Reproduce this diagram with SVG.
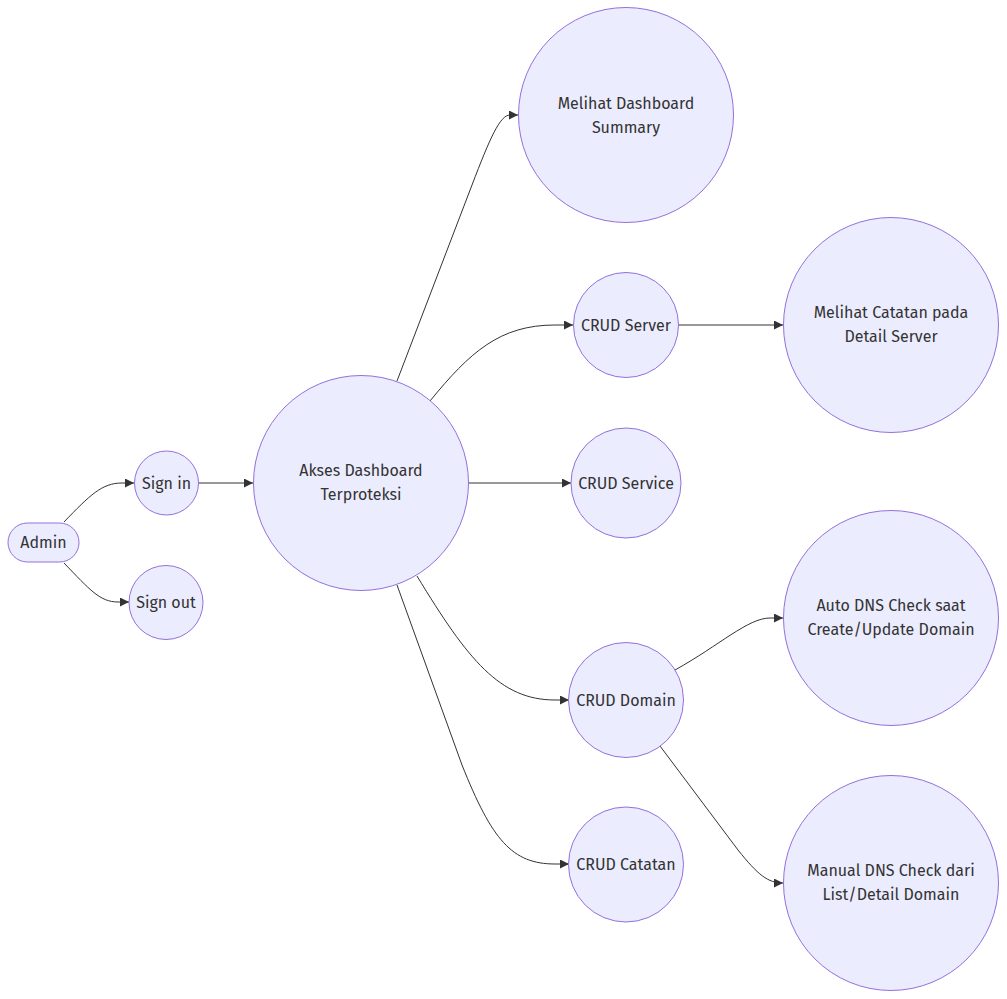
<svg xmlns="http://www.w3.org/2000/svg" width="1007" height="999" viewBox="0 0 1007 999">
<style>
.n{fill:#ECECFF;stroke:#9370DB;stroke-width:1}
.t{font-family:"Fira Sans","Open Sans","Noto Sans",sans-serif;font-size:16px;fill:#333;text-anchor:middle}
.e{fill:none;stroke:#333;stroke-width:1}
</style>
<defs>
<marker id="ah" viewBox="0 0 10 10" refX="10" refY="5" markerUnits="userSpaceOnUse" markerWidth="9" markerHeight="9" orient="auto">
<path d="M0,0 L10,5 L0,10 z" fill="#333"/>
</marker>
</defs>
<rect width="1007" height="999" fill="#fff"/>
<g id="edges">
<path class="e" marker-end="url(#ah)" d="M64,522 C90,495 102,483 122,483 L134,483"/>
<path class="e" marker-end="url(#ah)" d="M64,563 C90,590 100,602 118,602 L129,602"/>
<path class="e" marker-end="url(#ah)" d="M199,483 L253,483"/>
<path class="e" marker-end="url(#ah)" d="M397,381 L472,185 C490,138 500,115 510,115 L518,115"/>
<path class="e" marker-end="url(#ah)" d="M430,401 C470,352 500,325 555,325 L573,325"/>
<path class="e" marker-end="url(#ah)" d="M469,483 L571,483"/>
<path class="e" marker-end="url(#ah)" d="M417,576 C468,660 500,700 555,700 L569,700"/>
<path class="e" marker-end="url(#ah)" d="M397,585 L462,765 C492,840 512,864 555,864 L569,864"/>
<path class="e" marker-end="url(#ah)" d="M678,325 L783,325"/>
<path class="e" marker-end="url(#ah)" d="M675,670 C720,645 748,618 770,618 L783,618"/>
<path class="e" marker-end="url(#ah)" d="M660,746 L738,850 C758,875 768,883 783,883"/>
</g>
<g id="admin"><rect class="n" x="8" y="523" width="71" height="39" rx="19.5"/><text class="t" x="43.5" y="548">Admin</text></g>
<g id="signin"><circle class="n" cx="166.5" cy="483" r="32"/><text class="t" x="166.5" y="488.5">Sign in</text></g>
<g id="signout"><circle class="n" cx="166" cy="602.5" r="37"/><text class="t" x="166" y="608">Sign out</text></g>
<g id="akses"><circle class="n" cx="361" cy="483" r="107.5"/><text class="t" x="361" y="476">Akses Dashboard</text><text class="t" x="361" y="500">Terproteksi</text></g>
<g id="summary"><circle class="n" cx="626" cy="115" r="107.5"/><text class="t" x="626" y="108.5">Melihat Dashboard</text><text class="t" x="626" y="132.5">Summary</text></g>
<g id="crudserver"><circle class="n" cx="626" cy="325" r="52.5"/><text class="t" x="626" y="330.5">CRUD Server</text></g>
<g id="catatanserver"><circle class="n" cx="891" cy="325" r="107.5"/><text class="t" x="891" y="318">Melihat Catatan pada</text><text class="t" x="891" y="342">Detail Server</text></g>
<g id="crudservice"><circle class="n" cx="626" cy="483" r="55"/><text class="t" x="626" y="488.5">CRUD Service</text></g>
<g id="cruddomain"><circle class="n" cx="626" cy="700" r="57.5"/><text class="t" x="626" y="705.5">CRUD Domain</text></g>
<g id="autodns"><circle class="n" cx="891" cy="618" r="107.5"/><text class="t" x="891" y="611">Auto DNS Check saat</text><text class="t" x="891" y="635">Create/Update Domain</text></g>
<g id="manualdns"><circle class="n" cx="891" cy="883" r="107.5"/><text class="t" x="891" y="876">Manual DNS Check dari</text><text class="t" x="891" y="900">List/Detail Domain</text></g>
<g id="crudcatatan"><circle class="n" cx="626" cy="864.5" r="57.5"/><text class="t" x="626" y="870">CRUD Catatan</text></g>
</svg>
